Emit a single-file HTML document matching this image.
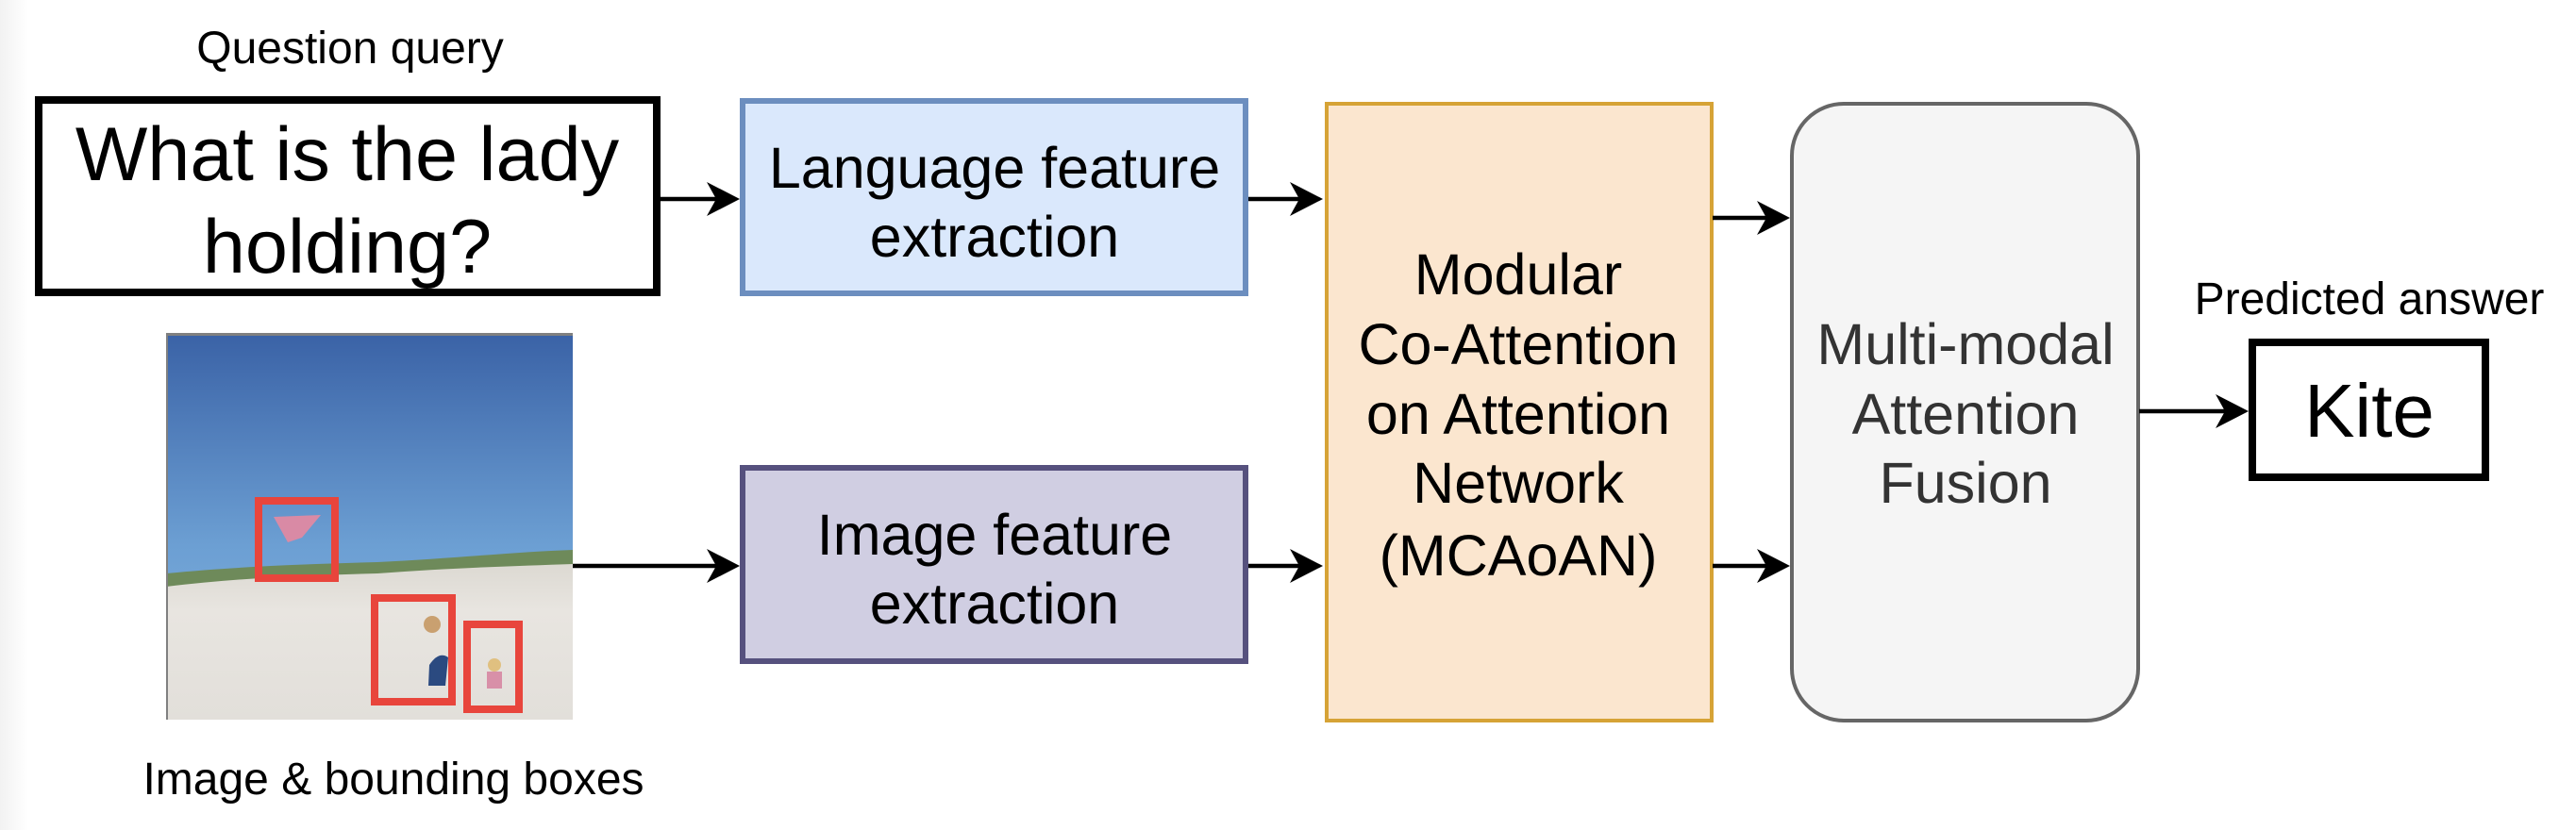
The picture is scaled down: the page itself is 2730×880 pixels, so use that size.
<!DOCTYPE html>
<html><head><meta charset="utf-8"><style>
html,body{margin:0;padding:0;background:#fff;}
svg{display:block;}
text{font-family:"Liberation Sans",Arial,sans-serif;}
</style></head><body>
<svg width="2730" height="880" viewBox="0 0 2730 880" xmlns="http://www.w3.org/2000/svg">
<defs>
<linearGradient id="sky" x1="0" y1="0" x2="0" y2="1">
<stop offset="0" stop-color="#3a62a6"/><stop offset="0.55" stop-color="#6c9fd3"/><stop offset="1" stop-color="#86b4e0"/>
</linearGradient>
<linearGradient id="sand" x1="0" y1="0" x2="0" y2="1">
<stop offset="0" stop-color="#dcd9d2"/><stop offset="0.3" stop-color="#e8e5e0"/><stop offset="1" stop-color="#e2dfda"/>
</linearGradient>
<linearGradient id="lg" x1="0" y1="0" x2="1" y2="0">
<stop offset="0" stop-color="#f2f2f2"/><stop offset="1" stop-color="#ffffff"/>
</linearGradient>
</defs>
<rect x="0" y="0" width="30" height="880" fill="url(#lg)"/>

<text x="371" y="67" font-size="48" text-anchor="middle" fill="#000">Question query</text>
<rect x="41" y="106" width="655" height="204" fill="#fff" stroke="#000" stroke-width="8"/>
<text x="368" y="191" font-size="81" text-anchor="middle" fill="#000">What is the lady</text>
<text x="368" y="289" font-size="81" text-anchor="middle" fill="#000">holding?</text>

<rect x="787" y="107" width="533" height="204" fill="#dae8fc" stroke="#6c8ebf" stroke-width="6"/>
<text x="1054" y="199" font-size="61" text-anchor="middle" fill="#000">Language feature</text>
<text x="1054" y="272" font-size="61" text-anchor="middle" fill="#000">extraction</text>

<rect x="787" y="496" width="533" height="205" fill="#d0cee2" stroke="#56517e" stroke-width="6"/>
<text x="1054" y="588" font-size="61" text-anchor="middle" fill="#000">Image feature</text>
<text x="1054" y="661" font-size="61" text-anchor="middle" fill="#000">extraction</text>

<!-- image -->
<rect x="176" y="353" width="431" height="410" fill="url(#sky)"/>
<path d="M176 608 C260 600 330 598 400 596 C480 592 550 585 607 583 L607 763 L176 763 Z" fill="#6e8a5a"/>
<path d="M176 622 C260 612 330 610 400 608 C480 602 550 600 607 598 L607 763 L176 763 Z" fill="url(#sand)"/>
<rect x="176" y="353" width="431" height="3" fill="#808080"/>
<rect x="176" y="353" width="2" height="410" fill="#808080"/>
<polygon points="290,548 340,546 320,570 305,575" fill="#d98aa5"/>
<path d="M455 705 q10 -15 20 -8 l-3 30 -18 0 z" fill="#2b4a80"/>
<circle cx="458" cy="662" r="9" fill="#c9a070"/>
<circle cx="524" cy="705" r="7" fill="#e0c080"/>
<rect x="516" y="712" width="16" height="18" fill="#d890a8"/>
<g fill="none" stroke="#e8453c" stroke-width="8">
<rect x="274" y="531" width="81" height="82"/>
<rect x="397" y="634" width="82" height="110"/>
<rect x="495" y="662" width="55" height="90"/>
</g>
<text x="417" y="842" font-size="48" text-anchor="middle" fill="#000">Image &amp; bounding boxes</text>

<rect x="1406" y="110" width="408" height="654" fill="#fbe6cf" stroke="#d6a336" stroke-width="4"/>
<g font-size="61" text-anchor="middle" fill="#000">
<text x="1609" y="312">Modular</text>
<text x="1609" y="386">Co-Attention</text>
<text x="1609" y="460">on Attention</text>
<text x="1609" y="533">Network</text>
<text x="1609" y="610">(MCAoAN)</text>
</g>

<rect x="1899" y="110" width="367" height="654" rx="55" ry="55" fill="#f5f5f5" stroke="#666" stroke-width="4"/>
<g font-size="61" text-anchor="middle" fill="#333">
<text x="2083" y="386">Multi-modal</text>
<text x="2083" y="460">Attention</text>
<text x="2083" y="533">Fusion</text>
</g>

<text x="2511" y="333" font-size="48" text-anchor="middle" fill="#000">Predicted answer</text>
<rect x="2387" y="363" width="247" height="143" fill="#fff" stroke="#000" stroke-width="8"/>
<text x="2511" y="463" font-size="80" text-anchor="middle" fill="#000">Kite</text>

<!-- arrows -->
<g stroke="#000" stroke-width="4.5">
<line x1="700" y1="211" x2="765" y2="211"/>
<line x1="607" y1="600" x2="765" y2="600"/>
<line x1="1323" y1="211" x2="1382" y2="211"/>
<line x1="1323" y1="600" x2="1382" y2="600"/>
<line x1="1815" y1="231" x2="1876" y2="231"/>
<line x1="1815" y1="600" x2="1876" y2="600"/>
<line x1="2267" y1="436" x2="2362" y2="436"/>
</g>
<g fill="#000">
<polygon points="784,211 749,193 759,211 749,229"/>
<polygon points="784,600 749,582 759,600 749,618"/>
<polygon points="1402,211 1367,193 1377,211 1367,229"/>
<polygon points="1402,600 1367,582 1377,600 1367,618"/>
<polygon points="1897,231 1862,213 1872,231 1862,249"/>
<polygon points="1897,600 1862,582 1872,600 1862,618"/>
<polygon points="2383,436 2348,418 2358,436 2348,454"/>
</g>
</svg>
</body></html>
